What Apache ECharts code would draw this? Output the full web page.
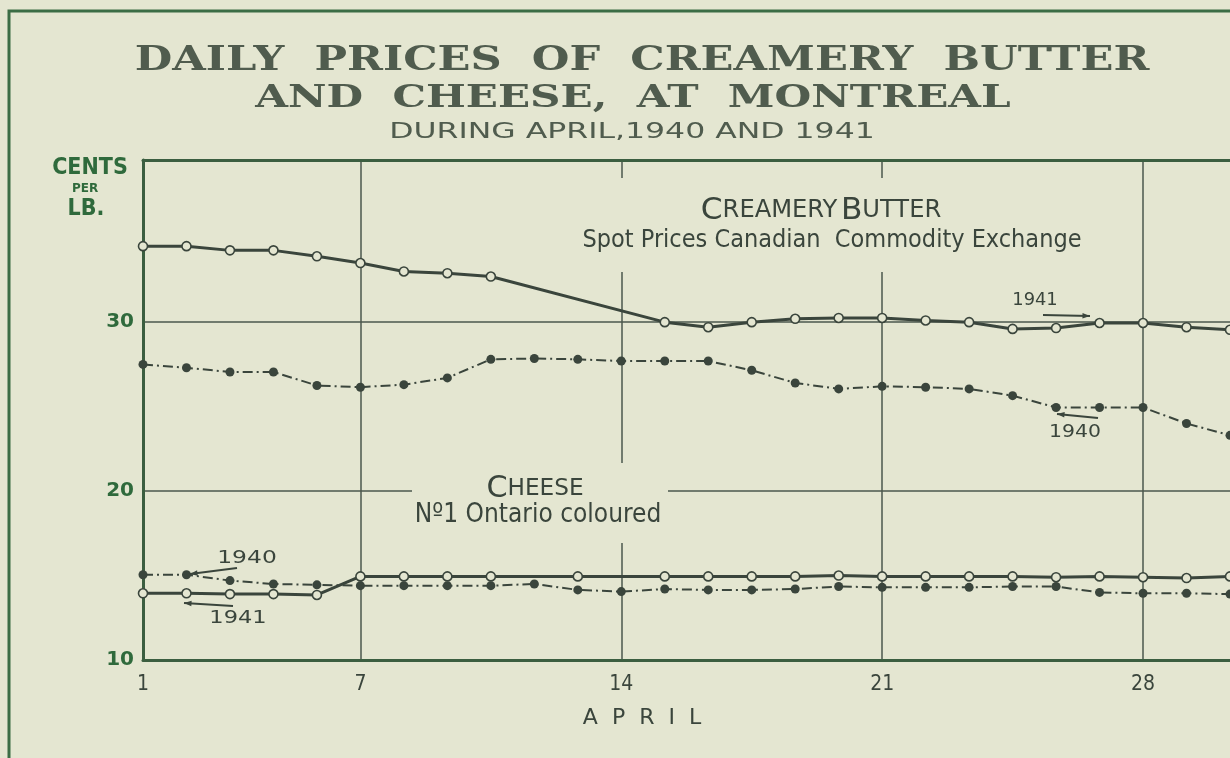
<!DOCTYPE html>
<html>
<head>
<meta charset="utf-8">
<script src="https://cdn.jsdelivr.net/npm/echarts@6/dist/echarts.min.js"></script>
<style>
  html, body { margin: 0; padding: 0; background: #e4e6d1; }
  #chart { width: 1230px; height: 758px; }
</style>
</head>
<body>
<div id="chart"></div>
<script>
// trading days of April (Sundays left out), labels only on 1, 7, 14, 21, 28
const days = ["1", "2", "3", "4", "5", "7", "8", "9", "10", "11", "12", "14", "15",
  "16", "17", "18", "19", "21", "22", "23", "24", "25", "26", "28", "29", "30"];
const labelDays = ["1", "7", "14", "21", "28"];
const yTicks = [10, 20, 30];

// creamery butter, cents per lb.
const butter1941 = [34.5, 34.5, 34.25, 34.25, 33.9, 33.5, 33.0, 32.9, 32.7, null, null, null,
  30.0, 29.7, 30.0, 30.2, 30.25, 30.25, 30.1, 30.0, 29.6, 29.65, 29.95, 29.95, 29.7, 29.55];
const butter1940 = [27.5, 27.3, 27.05, 27.05, 26.25, 26.15, 26.3, 26.7, 27.8, 27.85, 27.8, 27.7,
  27.7, 27.7, 27.15, 26.4, 26.05, 26.2, 26.15, 26.05, 25.65, 24.95, 24.95, 24.95, 24.0, 23.3];

// cheese, no.1 Ontario coloured
const cheese1941 = [13.95, 13.95, 13.9, 13.9, 13.85, 14.95, 14.95, 14.95, 14.95, null, 14.95, null,
  14.95, 14.95, 14.95, 14.95, 15.0, 14.95, 14.95, 14.95, 14.95, 14.9, 14.95, 14.9, 14.85, 14.95];
const cheese1940 = [15.05, 15.05, 14.7, 14.5, 14.45, 14.4, 14.4, 14.4, 14.4, 14.5, 14.15, 14.05,
  14.2, 14.15, 14.15, 14.2, 14.35, 14.3, 14.3, 14.3, 14.35, 14.35, 14.0, 13.95, 13.95, 13.9];

const BG = "#e4e6d1";
const INK = "#3a453c";
const TITLE = "#505c4e";
const GREEN = "#2f6a3c";
const NARROW = "'Liberation Sans Narrow', 'DejaVu Sans Condensed', 'DejaVu Sans', sans-serif";
const SERIF = "'DejaVu Serif', serif";
const SANS = "'DejaVu Sans', sans-serif";

const chart = echarts.init(document.getElementById("chart"));

const solid = (name, data) => ({
  name,
  type: "line",
  data,
  connectNulls: true,
  symbol: "circle",
  symbolSize: 9,
  lineStyle: { color: INK, width: 3 },
  itemStyle: { color: BG, borderColor: INK, borderWidth: 1.6 },
  z: 4,
});
const dashDot = (name, data) => ({
  name,
  type: "line",
  data,
  connectNulls: true,
  symbol: "circle",
  symbolSize: 9,
  lineStyle: { color: INK, width: 2, type: [10, 4, 2, 4] },
  itemStyle: { color: INK },
  z: 3,
});

// arrow helper for the year labels
const arrow = (x1, y1, x2, y2) => {
  const a = Math.atan2(y2 - y1, x2 - x1);
  const h = 8;
  return [
    { type: "line", shape: { x1, y1, x2, y2 }, style: { stroke: INK, lineWidth: 2 }, z: 10 },
    {
      type: "polygon",
      shape: {
        points: [
          [x2, y2],
          [x2 - h * Math.cos(a - 0.35), y2 - h * Math.sin(a - 0.35)],
          [x2 - h * Math.cos(a + 0.35), y2 - h * Math.sin(a + 0.35)],
        ],
      },
      style: { fill: INK },
      z: 10,
    },
  ];
};
const label = (text, x, y, font, sx) => ({
  type: "text",
  x, y,
  scaleX: sx || 1,
  style: { text, fill: INK, font, align: "center", verticalAlign: "middle" },
  z: 10,
});
const spaced = (word) => word.split("").map((c) => "{l|" + c + "}").join("");

chart.setOption({
  backgroundColor: BG,
  animation: false,
  grid: { left: 143, right: 0, top: 160, bottom: 98 },
  xAxis: [
    {
      type: "category",
      data: days,
      boundaryGap: false,
      axisLine: { lineStyle: { color: "#3b5e40", width: 3 } },
      axisTick: { show: false },
      axisLabel: {
        interval: (i, v) => labelDays.includes(v),
        margin: 14,
        color: INK,
        fontFamily: NARROW,
        fontSize: 21,
      },
      splitLine: {
        show: true,
        interval: (i, v) => i > 0 && labelDays.includes(v),
        lineStyle: { color: "#4b574d", width: 1.5 },
      },
    },
    {
      type: "category",
      data: days,
      position: "top",
      boundaryGap: false,
      axisLine: { lineStyle: { color: "#3b5e40", width: 3 } },
      axisTick: { show: false },
      axisLabel: { show: false },
    },
  ],
  yAxis: {
    type: "value",
    min: 10,
    max: 39.6,
    interval: 10,
    axisLine: { show: true, lineStyle: { color: "#3b5e40", width: 3 } },
    axisTick: { show: false },
    axisLabel: {
      margin: 9,
      color: GREEN,
      fontFamily: SANS,
      fontWeight: "bold",
      fontSize: 20,
      formatter: (v) => (yTicks.includes(v) ? String(v) : ""),
    },
    splitLine: { lineStyle: { color: "#4b574d", width: 1.5 } },
  },
  series: [
    solid("Butter 1941", butter1941),
    dashDot("Butter 1940", butter1940),
    solid("Cheese 1941", cheese1941),
    dashDot("Cheese 1940", cheese1940),
  ],
  graphic: [
    // outer frame
    { type: "polyline", shape: { points: [[9, 758], [9, 11], [1230, 11]] }, style: { stroke: "#3b6d45", lineWidth: 3, fill: null }, z: 10 },
    // title, drawn wide like the original lettering
    { type: "text", x: 642, y: 61, scaleX: 1.31,
      style: { text: "DAILY  PRICES  OF  CREAMERY  BUTTER", fill: TITLE, font: "bold 33px " + SERIF, align: "center", verticalAlign: "middle" } },
    { type: "text", x: 633, y: 99, scaleX: 1.36,
      style: { text: "AND  CHEESE,  AT  MONTREAL", fill: TITLE, font: "bold 31px " + SERIF, align: "center", verticalAlign: "middle" } },
    { type: "text", x: 632, y: 133, scaleX: 1.5,
      style: { text: "DURING APRIL,1940 AND 1941", fill: TITLE, font: "21px " + SANS, align: "center", verticalAlign: "middle" } },
    // unit label
    { type: "text", x: 90, y: 168, style: { text: "CENTS", fill: GREEN, font: "bold 23px " + NARROW, align: "center", verticalAlign: "middle" } },
    { type: "text", x: 85, y: 189, style: { text: "PER", fill: GREEN, font: "bold 12px " + SANS, align: "center", verticalAlign: "middle" } },
    { type: "text", x: 86, y: 209, style: { text: "LB.", fill: GREEN, font: "bold 23px " + NARROW, align: "center", verticalAlign: "middle" } },
    // butter caption, with a blank box over the grid lines
    { type: "rect", shape: { x: 575, y: 178, width: 515, height: 94 }, style: { fill: BG }, z: 1 },
    {
      type: "text", x: 821, y: 211, scaleX: 1.12,
      style: {
        text: "{b|C}{s|REAMERY} {b|B}{s|UTTER}",
        rich: {
          b: { fontSize: 31, fontFamily: NARROW, fill: INK },
          s: { fontSize: 24, fontFamily: NARROW, fill: INK },
        },
        align: "center", verticalAlign: "middle",
      },
      z: 10,
    },
    label("Spot Prices Canadian  Commodity Exchange", 832, 240, "25px " + NARROW),
    // cheese caption
    { type: "rect", shape: { x: 412, y: 463, width: 256, height: 80 }, style: { fill: BG }, z: 1 },
    {
      type: "text", x: 535, y: 489, scaleX: 1.12,
      style: {
        text: "{b|C}{s|HEESE}",
        rich: {
          b: { fontSize: 30, fontFamily: NARROW, fill: INK },
          s: { fontSize: 23, fontFamily: NARROW, fill: INK },
        },
        align: "center", verticalAlign: "middle",
      },
      z: 10,
    },
    label("Nº1 Ontario coloured", 538, 515, "26px " + NARROW),
    // year labels
    label("1941", 1035, 301, "17px " + SANS, 1.05),
    ...arrow(1043, 315, 1090, 316),
    label("1940", 1075, 433, "17px " + SANS, 1.2),
    ...arrow(1098, 418, 1057, 414),
    label("1940", 247, 558, "18px " + SANS, 1.3),
    ...arrow(237, 568, 190, 574),
    label("1941", 238, 618, "18px " + SANS, 1.25),
    ...arrow(233, 606, 184, 603),
    // x axis name, letter spaced
    {
      type: "text", x: 642, y: 718,
      style: {
        text: spaced("APRIL"),
        rich: { l: { fontSize: 22, fontFamily: SANS, fill: INK, padding: [0, 7] } },
        align: "center", verticalAlign: "middle",
      },
      z: 10,
    },
  ],
});
</script>
</body>
</html>
